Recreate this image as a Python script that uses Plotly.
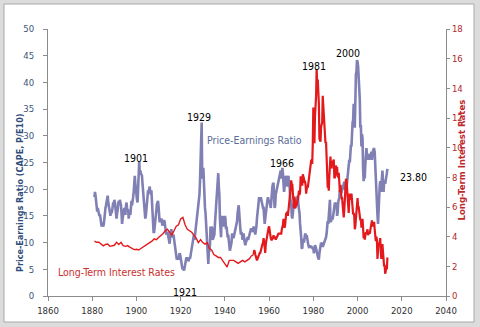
import plotly.graph_objects as go

# Shiller cyclically adjusted P/E (CAPE, P/E10), quarterly, one row per year from 1881
CAPE_START = 1881
cape_quarterly = [
    [18.5, 19.5, 18.8, 17.5], [16.2, 15.8, 16.5, 16.0], [15.8, 15.0, 15.3, 14.5],
    [14.5, 13.0, 13.8, 13.2], [13.0, 13.5, 15.0, 16.5], [16.5, 17.0, 17.5, 18.5],
    [18.8, 17.5, 16.8, 16.0], [15.2, 15.0, 16.0, 15.5], [16.0, 16.5, 17.5, 17.0],
    [18.0, 17.5, 16.5, 14.8], [14.5, 15.5, 16.0, 17.2], [17.8, 17.2, 18.0, 17.5],
    [17.0, 15.5, 13.5, 14.5], [15.0, 15.8, 16.5, 15.8], [15.2, 16.8, 17.5, 16.5],
    [16.0, 16.2, 14.5, 15.5], [15.5, 15.2, 17.5, 17.8], [17.0, 17.5, 18.5, 19.5],
    [21.5, 22.5, 21.0, 19.5], [19.0, 18.0, 17.5, 20.0], [22.5, 25.2, 23.0, 23.5],
    [23.0, 22.8, 22.5, 21.0], [19.5, 18.0, 15.5, 14.5], [14.5, 15.0, 16.5, 18.5],
    [19.0, 19.8, 19.5, 20.2], [20.5, 19.5, 19.0, 19.8], [17.5, 15.5, 14.8, 12.0],
    [12.0, 13.5, 15.0, 15.8], [16.0, 17.2, 17.5, 17.8], [16.8, 15.5, 13.8, 14.5],
    [14.0, 14.5, 13.8, 13.2], [13.5, 14.0, 14.2, 13.8], [12.8, 12.0, 11.5, 11.8],
    [12.0, 11.5, 10.5, 10.0], [9.8, 11.0, 11.8, 12.5], [12.0, 11.0, 11.2, 11.5],
    [10.5, 9.5, 9.0, 7.8], [6.8, 6.8, 7.0, 7.2], [6.8, 7.5, 8.0, 7.8],
    [7.0, 6.5, 6.0, 5.2], [5.2, 5.0, 4.8, 5.2], [6.0, 6.6, 7.0, 7.0],
    [7.2, 7.0, 6.5, 6.8], [7.2, 7.0, 7.8, 8.2], [9.0, 9.5, 10.0, 10.8],
    [11.5, 10.5, 11.5, 12.0], [12.5, 13.5, 14.5, 16.0], [16.5, 18.5, 19.0, 21.5],
    [27.0, 28.0, 32.5, 22.0], [22.5, 24.0, 20.0, 17.0], [16.5, 15.5, 13.5, 10.5],
    [9.5, 6.5, 6.0, 8.5], [8.5, 9.5, 13.0, 11.5], [13.0, 12.5, 10.5, 11.0],
    [11.0, 11.5, 13.5, 15.5], [17.0, 18.5, 19.5, 21.0], [23.0, 20.5, 19.0, 14.5],
    [12.5, 11.0, 14.5, 15.0], [14.5, 13.0, 14.0, 15.0], [15.0, 14.5, 12.5, 13.0],
    [12.0, 11.0, 11.5, 10.5], [9.5, 8.5, 9.0, 9.5], [10.0, 11.5, 11.5, 11.0],
    [11.0, 11.5, 12.0, 12.0], [12.5, 13.5, 14.0, 15.5], [16.0, 17.0, 15.5, 13.0],
    [12.5, 11.5, 12.0, 11.5], [10.5, 11.5, 11.5, 10.5], [10.2, 9.5, 10.0, 10.5],
    [10.5, 11.0, 10.5, 11.0], [11.5, 12.0, 12.5, 12.5], [12.5, 12.0, 12.5, 12.5],
    [13.0, 12.0, 12.0, 11.5], [12.0, 13.0, 14.5, 16.0], [17.0, 17.5, 18.5, 18.0],
    [18.0, 18.5, 18.0, 17.0], [17.0, 16.5, 16.5, 14.0], [13.5, 14.5, 15.5, 16.5],
    [18.0, 18.0, 18.5, 17.5], [18.0, 17.0, 17.0, 16.5], [18.5, 20.0, 20.5, 21.0],
    [21.0, 18.5, 16.5, 17.0], [19.0, 19.5, 20.0, 20.5], [21.5, 22.0, 22.0, 22.5],
    [23.3, 23.5, 22.0, 23.5], [24.0, 23.0, 20.5, 19.5], [20.5, 22.0, 22.5, 22.0],
    [21.5, 20.5, 22.0, 22.5], [21.0, 21.0, 18.5, 18.0], [17.0, 15.0, 14.5, 15.5],
    [16.5, 17.5, 17.0, 16.5], [18.0, 18.0, 18.0, 18.5], [18.7, 17.0, 16.5, 15.5],
    [13.5, 12.5, 11.0, 9.0], [8.9, 10.5, 10.5, 10.0], [11.0, 11.5, 11.5, 11.0],
    [11.4, 10.5, 10.0, 9.5], [9.2, 9.0, 9.5, 9.0], [9.3, 9.0, 9.0, 9.0],
    [8.9, 8.0, 9.0, 9.5], [9.3, 9.0, 8.5, 8.0], [7.4, 7.2, 6.8, 8.0],
    [8.8, 9.5, 10.0, 9.8], [10.0, 9.2, 9.5, 9.8], [10.0, 10.5, 11.0, 11.0],
    [11.7, 13.5, 14.0, 13.5], [14.9, 16.5, 18.0, 14.0], [13.9, 14.5, 14.5, 14.5],
    [15.1, 16.0, 17.5, 17.5], [17.0, 17.0, 17.5, 15.0], [15.6, 17.5, 18.0, 18.5],
    [19.8, 19.5, 19.5, 19.5], [20.3, 20.5, 20.5, 21.0], [21.4, 20.0, 20.0, 20.0],
    [20.2, 21.5, 23.0, 24.0], [24.8, 25.5, 25.0, 27.0], [28.3, 28.0, 32.0, 32.5],
    [32.9, 36.0, 35.0, 31.5], [40.6, 41.5, 42.0, 44.2], [43.8, 43.0, 41.5, 39.0],
    [36.9, 31.5, 32.0, 28.0], [30.3, 29.5, 24.0, 21.5], [22.9, 22.0, 24.5, 25.5],
    [27.7, 26.5, 25.5, 25.5], [26.6, 25.5, 26.5, 26.0], [26.5, 27.0, 25.5, 27.0],
    [27.2, 27.5, 27.5, 27.0], [24.0, 22.5, 21.0, 17.0], [15.2, 13.5, 17.0, 19.5],
    [20.5, 21.5, 19.5, 20.5], [23.0, 23.5, 21.5, 19.5], [21.2, 21.5, 21.0, 21.5],
    [22.0, 23.0, 23.8],
]

# Long-term interest rates: annual 1881-1952, then quarterly from 1953
RATE_ANNUAL_START = 1881
rate_annual = [
    3.70, 3.62, 3.63, 3.52, 3.38, 3.48, 3.50, 3.35, 3.39, 3.42,
    3.62, 3.47, 3.62, 3.40, 3.35, 3.40, 3.30, 3.21, 3.13, 3.15,
    3.10, 3.20, 3.30, 3.40, 3.45, 3.55, 3.70, 3.85, 3.80, 3.95,
    4.05, 4.20, 4.40, 4.50, 4.30, 4.10, 4.40, 4.70, 4.80, 5.20,
    5.30, 4.80, 4.50, 4.40, 4.30, 4.10, 3.90, 3.60, 3.80, 3.60,
    3.50, 3.60, 3.20, 3.10, 2.80, 2.70, 2.60, 2.60, 2.40, 2.20,
    1.95, 2.40, 2.40, 2.40, 2.30, 2.20, 2.30, 2.40, 2.30, 2.40,
    2.50, 2.70,
]
RATE_Q_START = 1953
rate_quarterly = [
    [2.8, 3.1, 3.0, 2.8], [2.6, 2.5, 2.4, 2.5], [2.6, 2.8, 2.9, 2.9],
    [2.9, 3.1, 3.3, 3.3], [3.5, 3.6, 3.9, 3.7], [3.1, 2.9, 3.5, 3.8],
    [4.0, 4.2, 4.4, 4.6], [4.7, 4.3, 3.9, 3.9], [3.8, 3.8, 3.9, 3.9],
    [4.1, 3.9, 4.0, 3.9], [3.8, 3.9, 4.0, 4.1], [4.2, 4.2, 4.2, 4.2],
    [4.2, 4.2, 4.2, 4.5], [4.6, 4.8, 5.2, 5.0], [4.6, 4.8, 5.3, 5.6],
    [5.5, 5.7, 5.4, 5.7], [6.0, 6.2, 6.9, 7.3], [7.8, 7.5, 7.5, 6.9],
    [6.2, 5.9, 6.7, 5.9], [6.0, 6.2, 6.1, 6.4], [6.5, 6.8, 7.1, 6.8],
    [7.0, 8.0, 8.0, 7.5], [7.5, 8.2, 8.1, 7.9], [7.7, 7.7, 7.5, 6.9],
    [7.2, 7.4, 7.3, 7.5], [7.9, 8.2, 8.6, 8.9], [9.1, 9.2, 8.9, 10.3],
    [12.7, 11.0, 10.3, 12.1], [12.6, 13.5, 15.3, 14.2], [14.6, 13.9, 13.0, 10.6],
    [10.5, 10.4, 11.4, 11.6], [11.7, 13.5, 12.8, 12.0], [11.4, 11.4, 10.3, 10.4],
    [9.2, 7.4, 7.3, 7.4], [7.1, 8.1, 8.5, 9.4], [8.7, 8.6, 9.1, 8.8],
    [9.1, 9.2, 8.0, 8.0], [8.2, 8.8, 8.5, 8.7], [8.1, 8.0, 8.3, 7.5],
    [7.0, 7.5, 6.8, 6.6], [6.6, 6.0, 5.8, 5.3], [5.8, 7.0, 7.3, 7.9],
    [7.8, 7.1, 6.2, 6.0], [5.6, 6.5, 6.9, 6.5], [6.6, 6.9, 6.2, 6.0],
    [5.5, 5.6, 5.4, 4.5], [4.7, 5.2, 5.8, 6.0], [6.6, 6.0, 6.0, 5.7],
    [5.2, 5.1, 5.2, 4.6], [5.0, 5.2, 4.6, 3.9], [4.0, 3.8, 4.0, 4.3],
    [4.2, 4.3, 4.5, 4.1], [4.2, 4.3, 4.2, 4.5], [4.4, 5.0, 5.1, 4.7],
    [4.8, 4.7, 5.0, 4.5], [3.7, 3.7, 4.0, 3.8], [2.5, 2.9, 3.6, 3.4],
    [3.7, 3.9, 3.0, 2.5], [3.4, 3.5, 3.0, 2.2], [2.0, 2.1, 1.5, 1.7],
    [1.9, 1.8, 2.6],
]

# Axis tick labels
x_ticks = [1860, 1880, 1900, 1920, 1940, 1960, 1980, 2000, 2020, 2040]
pe_ticks = [0, 5, 10, 15, 20, 25, 30, 35, 40, 45, 50]
rate_ticks = [0, 2, 4, 6, 8, 10, 12, 14, 16, 18]


def flatten_quarterly(rows, start):
    xs, ys = [], []
    for i, row in enumerate(rows):
        for q, v in enumerate(row):
            xs.append(start + i + q / 4)
            ys.append(v)
    return xs, ys


cape_x, cape_y = flatten_quarterly(cape_quarterly, CAPE_START)
ra_x = [RATE_ANNUAL_START + i for i in range(len(rate_annual))]
rq_x, rq_y = flatten_quarterly(rate_quarterly, RATE_Q_START)

FONT = "Liberation Sans Narrow, DejaVu Sans Condensed, Arial Narrow, Liberation Sans, sans-serif"
PE_COLOR = "#8080B4"
RATE_COLOR = "#E3191C"
LEFT_TXT = "#3C5478"
RIGHT_TXT = "#B0282C"

fig = go.Figure()
fig.add_trace(go.Scatter(x=cape_x, y=cape_y, mode="lines", yaxis="y",
                         line=dict(color=PE_COLOR, width=2.6), hoverinfo="skip"))
fig.add_trace(go.Scatter(x=ra_x + [rq_x[0]], y=rate_annual + [rq_y[0]], mode="lines", yaxis="y2",
                         line=dict(color=RATE_COLOR, width=1.4), hoverinfo="skip"))
fig.add_trace(go.Scatter(x=rq_x, y=rq_y, mode="lines", yaxis="y2",
                         line=dict(color=RATE_COLOR, width=2.2), hoverinfo="skip"))

L, R, T, B = 48, 34, 29, 31
W, H = 480, 327
pw, ph = W - L - R, H - T - B

def px_x(p):
    return (p - L) / pw

def px_y(p):
    return (H - B - p) / ph

# page frame: light grey surround with a white bordered panel
fig.add_shape(type="rect", xref="paper", yref="paper", layer="below",
              x0=px_x(4), x1=px_x(474), y0=px_y(322), y1=px_y(4),
              fillcolor="white", line=dict(color="#A8A8A8", width=1))

year_font = dict(family=FONT, size=10.5, color="#000000")
labels = [
    ("1901", 1899.6, 25.8), ("1929", 1928.3, 33.5), ("1966", 1965.8, 24.9),
    ("1981", 1980.3, 43.1), ("2000", 1995.7, 45.5), ("1921", 1922.0, 0.75),
]
for text, xv, yv in labels:
    fig.add_annotation(x=xv, y=yv, xref="x", yref="y", text=text, showarrow=False,
                       font=year_font)

fig.add_annotation(x=2025.1, y=22.3, xref="x", yref="y", text=f"{cape_y[-1]:.2f}",
                   showarrow=False, font=year_font)
fig.add_annotation(x=1953.2, y=29.2, xref="x", yref="y", text="Price-Earnings Ratio",
                   showarrow=False, font=dict(family=FONT, size=10.5, color="#5A6C9A"))
fig.add_annotation(x=1890.8, y=4.5, xref="x", yref="y", text="Long-Term Interest Rates",
                   showarrow=False, font=dict(family=FONT, size=10.5, color="#C8302E"))

# axis titles
fig.add_annotation(x=px_x(13), y=px_y(193), xref="paper", yref="paper",
                   text="<b>Price-Earnings Ratio (CAPE, P/E10)</b>", textangle=-90,
                   showarrow=False, font=dict(family=FONT, size=9, color="#2F4D7A"))
fig.add_annotation(x=px_x(468), y=px_y(160), xref="paper", yref="paper",
                   text="<b>Long-Term Interest Rates</b>", textangle=-90,
                   showarrow=False, font=dict(family=FONT, size=9.5, color="#C0282D"))

axis_line = "#8C8C8C"
tick_size = 9.5
fig.update_layout(
    width=W, height=H,
    margin=dict(l=L, r=R, t=T, b=B, pad=0),
    paper_bgcolor="#DCDCDC",
    plot_bgcolor="rgba(0,0,0,0)",
    showlegend=False,
    xaxis=dict(range=[1860, 2040], tickvals=x_ticks, showgrid=False, zeroline=False,
               showline=True, linecolor=axis_line, linewidth=1,
               ticks="outside", ticklen=4, tickcolor=axis_line, ticklabelstandoff=2,
               tickfont=dict(family=FONT, size=tick_size, color="#303030")),
    yaxis=dict(range=[0, 50], tickvals=pe_ticks, showgrid=False, zeroline=False,
               showline=True, linecolor=axis_line, linewidth=1,
               ticks="outside", ticklen=4, tickcolor=axis_line, ticklabelstandoff=7,
               tickfont=dict(family=FONT, size=tick_size, color=LEFT_TXT)),
    yaxis2=dict(range=[0, 18], tickvals=rate_ticks, overlaying="y", side="right",
                showgrid=False, zeroline=False, showline=True, linecolor=axis_line,
                linewidth=1, ticks="outside", ticklen=3, tickcolor=axis_line,
                tickfont=dict(family=FONT, size=tick_size, color=RIGHT_TXT)),
)

fig.write_html("out.html")
